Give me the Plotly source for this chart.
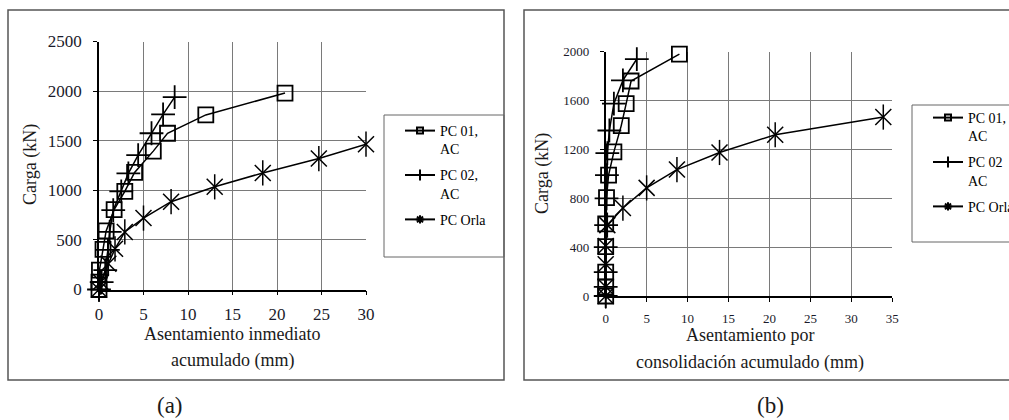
import plotly.graph_objects as go

# ---------------- data ----------------
load_pc01 = [0, 75, 195, 405, 590, 805, 990, 1180, 1395, 1575, 1760, 1980]
load_pc02 = [0, 75, 195, 400, 580, 800, 990, 1170, 1355, 1575, 1765, 1940]
load_orla = [0, 75, 260, 410, 580, 720, 885, 1035, 1175, 1320, 1465]

# (a) immediate settlement (mm)
inm_pc01 = [0, 0, 0.05, 0.45, 0.8, 1.7, 2.9, 4.0, 6.1, 7.7, 12.0, 20.9]
inm_pc02 = [0, 0.3, 0.7, 1.0, 1.2, 1.6, 2.5, 3.3, 4.4, 5.9, 7.2, 8.5]
inm_orla = [0, 0.2, 1.05, 1.8, 2.9, 5.0, 8.1, 13.0, 18.4, 24.7, 30.0]

# (b) consolidation settlement (mm)
con_pc01 = [0, 0, 0, 0, 0, 0.1, 0.35, 1.0, 1.9, 2.5, 3.1, 9.0]
con_pc02 = [0, 0, 0, 0, 0.05, 0.1, 0.15, 0.2, 0.45, 1.0, 2.1, 3.8]
con_orla = [0, 0, 0, 0, 0.2, 2.1, 5.0, 8.7, 13.9, 20.7, 33.9]

names_a = ["PC 01,<br>AC", "PC 02,<br>AC", "PC Orla<br> "]
names_b = ["PC 01,<br>AC", "PC 02<br>AC", "PC Orla<br> "]

xticks_a = [0, 5, 10, 15, 20, 25, 30]
yticks_a = [0, 500, 1000, 1500, 2000, 2500]
xticks_b = [0, 5, 10, 15, 20, 25, 30, 35]
yticks_b = [0, 400, 800, 1200, 1600, 2000]

SERIF = "Liberation Serif, Times New Roman, serif"
BLACK = "#000000"
GRID = "#7a7a7a"

fig = go.Figure()


def add_series(xs, ys, name, sym, size, xa, ya, legend, group):
    common = dict(xaxis=xa, yaxis=ya, cliponaxis=False, hoverinfo="skip")
    if sym == "asterisk":
        fig.add_trace(go.Scatter(x=xs, y=ys, mode="lines+markers", showlegend=False,
                                 line=dict(color=BLACK, width=1.5),
                                 marker=dict(symbol="x-thin-open", size=size, color=BLACK,
                                             line=dict(color=BLACK, width=1.5)), **common))
        fig.add_trace(go.Scatter(x=xs, y=ys, mode="markers", showlegend=False,
                                 marker=dict(symbol="line-ns-open", size=size + 2, color=BLACK,
                                             line=dict(color=BLACK, width=1.5)), **common))
        leg_sym, leg_size = "asterisk-open", 7
    elif sym == "cross-thin-open":
        fig.add_trace(go.Scatter(x=xs, y=ys, mode="lines+markers", showlegend=False,
                                 line=dict(color=BLACK, width=1.5),
                                 marker=dict(symbol=sym, size=size, color=BLACK,
                                             line=dict(color=BLACK, width=1.8)), **common))
        leg_sym, leg_size = "line-ns-open", 8
    else:
        fig.add_trace(go.Scatter(x=xs, y=ys, mode="lines+markers", showlegend=False,
                                 line=dict(color=BLACK, width=1.5),
                                 marker=dict(symbol=sym, size=size, color=BLACK,
                                             line=dict(color=BLACK, width=1.8)), **common))
        leg_sym, leg_size = sym, 6
    # legend key (small marker, as in the original)
    fig.add_trace(go.Scatter(x=[None], y=[None], mode="lines+markers", name=name,
                             legend=legend, legendgroup=group, xaxis=xa, yaxis=ya,
                             line=dict(color=BLACK, width=2),
                             marker=dict(symbol=leg_sym, size=leg_size, color=BLACK,
                                         line=dict(color=BLACK, width=2))))


add_series(inm_pc01, load_pc01, names_a[0], "square-open", 15, "x", "y", "legend", "a1")
add_series(inm_pc02, load_pc02, names_a[1], "cross-thin-open", 17, "x", "y", "legend", "a2")
add_series(inm_orla, load_orla, names_a[2], "asterisk", 16, "x", "y", "legend", "a3")

add_series(con_pc01, load_pc01, names_b[0], "square-open", 15, "x2", "y2", "legend2", "b1")
add_series(con_pc02, load_pc02, names_b[1], "cross-thin-open", 17, "x2", "y2", "legend2", "b2")
add_series(con_orla, load_orla, names_b[2], "asterisk", 16, "x2", "y2", "legend2", "b3")

W, H = 1009, 420


def px(x):
    return x / W


def py(y):
    return (H - y) / H


axis_common = dict(showgrid=True, gridcolor=GRID, gridwidth=1, zeroline=False,
                   showline=True, linecolor=BLACK, linewidth=1.5,
                   ticks="outside", ticklen=4, tickcolor=BLACK, tickwidth=1)

fig.update_layout(
    width=W, height=H, margin=dict(l=0, r=0, t=0, b=0, autoexpand=False),
    paper_bgcolor="white", plot_bgcolor="white",
    xaxis=dict(domain=[px(99), px(366)], range=[0, 30], tickvals=xticks_a,
               tickfont=dict(family=SERIF, size=17, color="#1a1a2a"),
               ticklabelstandoff=4, anchor="y", **axis_common),
    yaxis=dict(domain=[py(289.5), py(41.5)], range=[0, 2500], tickvals=yticks_a,
               tickfont=dict(family=SERIF, size=17, color="#1a1a2a"),
               ticklabelstandoff=8, anchor="x", **axis_common),
    xaxis2=dict(domain=[px(605.7), px(892.3)], range=[0, 35], tickvals=xticks_b,
                tickfont=dict(family=SERIF, size=13, color="#1a1a2a"),
                ticklabelstandoff=6, anchor="y2", **axis_common),
    yaxis2=dict(domain=[py(296), py(51.7)], range=[0, 2000], tickvals=yticks_b,
                tickfont=dict(family=SERIF, size=13, color="#1a1a2a"),
                ticklabelstandoff=8, anchor="x2", **axis_common),
    legend=dict(x=px(400), y=py(115), xanchor="left", yanchor="top",
                borderwidth=0, bgcolor="rgba(0,0,0,0)",
                font=dict(family=SERIF, size=14, color=BLACK),
                valign="top", tracegroupgap=5, itemsizing="trace"),
    legend2=dict(x=px(928), y=py(102), xanchor="left", yanchor="top",
                 borderwidth=0, bgcolor="rgba(0,0,0,0)",
                 font=dict(family=SERIF, size=14, color=BLACK),
                 valign="top", tracegroupgap=5, itemsizing="trace"),
    showlegend=True,
)

# panel frames
fig.add_shape(type="rect", xref="paper", yref="paper", x0=px(8), x1=px(504),
              y0=py(380), y1=py(10), line=dict(color="#555555", width=1.5), layer="below")
fig.add_shape(type="rect", xref="paper", yref="paper", x0=px(524), x1=px(1015),
              y0=py(380), y1=py(10), line=dict(color="#555555", width=1.5), layer="below")
# legend frames
fig.add_shape(type="rect", xref="paper", yref="paper", x0=px(384), x1=px(504),
              y0=py(257), y1=py(115), line=dict(color="#666666", width=1), layer="below")
fig.add_shape(type="rect", xref="paper", yref="paper", x0=px(912), x1=px(1015),
              y0=py(242), y1=py(105), line=dict(color="#666666", width=1), layer="below")

TXT = "#1a1a1a"
ann = [
    dict(text="Carga (kN)", x=px(30), y=py(165), textangle=-90, size=18),
    dict(text="Carga (kN)", x=px(542), y=py(174), textangle=-90, size=18),
    dict(text="Asentamiento inmediato", x=px(232), y=py(334), textangle=0, size=18),
    dict(text="acumulado (mm)", x=px(232), y=py(360), textangle=0, size=18),
    dict(text="Asentamiento por", x=px(750), y=py(335), textangle=0, size=18),
    dict(text="consolidación acumulado (mm)", x=px(750), y=py(362), textangle=0, size=18),
    dict(text="(a)", x=px(170), y=py(405), textangle=0, size=23),
    dict(text="(b)", x=px(770), y=py(405), textangle=0, size=23),
]
for a in ann:
    fig.add_annotation(text=a["text"], x=a["x"], y=a["y"], xref="paper", yref="paper",
                       xanchor="center", yanchor="middle", showarrow=False,
                       textangle=a["textangle"],
                       font=dict(family=SERIF, size=a["size"], color=TXT))

fig.write_html("out.html")
